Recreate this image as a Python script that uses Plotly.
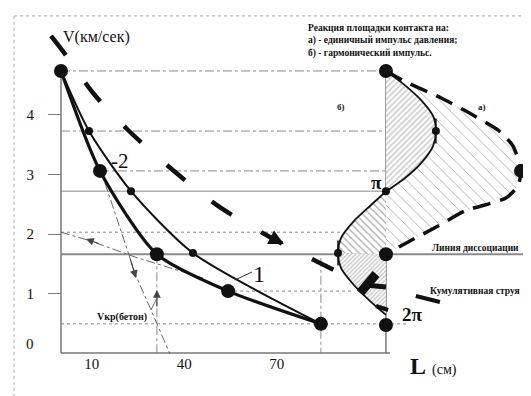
import plotly.graph_objects as go

# ---------------- data (L in cm, V in km/s) ----------------
curve1_L = [0, 9.08, 22.7, 42.8, 84.3]
curve1_V = [4.74, 3.73, 2.72, 1.68, 0.49]
curve2_L = [0, 12.65, 31.1, 54.2, 84.3]
curve2_V = [4.74, 3.06, 1.66, 1.04, 0.49]

big_L = [0, 12.65, 31.1, 54.2, 84.3, 105.4, 105.4, 105.4, 149.2]
big_V = [4.74, 3.06, 1.66, 1.04, 0.49, 4.74, 1.66, 0.47, 3.06]
small_L = [9.08, 22.7, 42.8, 105.4]
small_V = [3.73, 2.72, 1.68, 2.72]
peak_L = [121.6, 89.85]
peak_V = [3.73, 1.68]

jet_L = [-3.24, 2.27, 10.38, 21.73, 34.71, 50.92, 67.14, 80.12, 96.33]
jet_V = [5.328, 4.958, 4.37, 3.748, 3.143, 2.471, 1.966, 1.613, 1.193]

harm_L = [105.4, 110.6, 116.8, 120.7, 121.6, 120.7, 116.8, 111.6, 105.4,
          100.2, 94.7, 90.8, 89.85, 90.8, 94.7, 99.9, 105.4]
harm_V = [4.74, 4.54, 4.25, 3.98, 3.73, 3.48, 3.19, 2.94, 2.71,
          2.47, 2.20, 1.93, 1.68, 1.43, 1.16, 0.89, 0.64]

pulse_L = [105.4, 111.9, 123.3, 133.6, 141.7, 146.6, 149.2, 148.2, 144.3,
           131.0, 122.3, 112.6, 105.4]
pulse_V = [4.74, 4.555, 4.286, 4.0, 3.748, 3.479, 3.06, 2.807, 2.605,
           2.387, 2.134, 1.866, 1.66]

# horizontal guide levels: (L from, L to, V, dash)
h_guides = [(0, 105.4, 4.74, "dashdot"), (0, 121.6, 3.73, "dashdot"),
            (12.65, 149.2, 3.06, "dashdot"), (0, 105.4, 2.72, "solid"),
            (0, 91.4, 2.03, "dot"), (54.2, 94.7, 1.04, "dot"),
            (0, 112.6, 0.49, "dot")]
diss_L = [0, 153.0]
diss_V = [1.66, 1.66]
v_guides = [(31.1, 1.66, 0), (84.3, 1.60, 0)]

lineA_L = [0, 9.73, 24.0, 46.06]
lineA_V = [2.03, 1.882, 1.613, 1.26]
lineB_L = [14.27, 24.33, 29.19, 35.35]
lineB_V = [2.857, 1.294, 0.723, -0.017]
lineV_L = [29.19, 31.1]
lineV_V = [0.723, 0.92]

y_ticks = [1, 2, 3, 4]
x_ticks = [10, 40, 70]

FONT = "'Liberation Serif', 'Times New Roman', 'DejaVu Serif', serif"
fig = go.Figure()

def line(x, y, color="#888", width=1, dash="solid", shape="linear", smooth=None):
    ln = dict(color=color, width=width, dash=dash, shape=shape)
    if smooth is not None:
        ln["smoothing"] = smooth
    fig.add_trace(go.Scatter(x=x, y=y, mode="lines", line=ln, hoverinfo="skip",
                             showlegend=False, cliponaxis=False))

# guides
for a, b, v, d in h_guides:
    line([a, b], [v, v], "#8a8a8a", 1, d)
line(diss_L, diss_V, "#8a8a8a", 2)
for l, v0, v1 in v_guides:
    line([l, l], [v0, v1], "#8a8a8a", 1, "dashdot")

# axes lines
line([0, 0], [4.74, 0], "#777", 1.5)
line([0, 106.7], [0, 0], "#777", 1.5)
line([105.4, 105.4], [4.74, 0], "#777", 1.5)

# pulse (a) hatched region
fig.add_trace(go.Scatter(x=pulse_L, y=pulse_V, mode="none", fill="toself",
                         fillpattern=dict(shape="\\", fgcolor="#444", bgcolor="white",
                                          size=8, solidity=0.1),
                         hoverinfo="skip", showlegend=False))
# harmonic (b) lobes
fig.add_trace(go.Scatter(x=harm_L[:9], y=harm_V[:9], mode="none", fill="toself",
                         fillpattern=dict(shape="/", fgcolor="#999", bgcolor="white",
                                          size=4, solidity=0.4),
                         hoverinfo="skip", showlegend=False))
fig.add_trace(go.Scatter(x=harm_L[8:13] + [105.4], y=harm_V[8:13] + [1.66], mode="none",
                         fill="toself",
                         fillpattern=dict(shape="\\", fgcolor="#555", bgcolor="white",
                                          size=5, solidity=0.25),
                         hoverinfo="skip", showlegend=False))
fig.add_trace(go.Scatter(x=[105.4] + harm_L[12:], y=[1.66] + harm_V[12:], mode="none",
                         fill="toself",
                         fillpattern=dict(shape="/", fgcolor="#999", bgcolor="white",
                                          size=3, solidity=0.5),
                         hoverinfo="skip", showlegend=False))

# outlines
line(pulse_L, pulse_V, "#111", 3.5, "18px,10px", "spline", 0.6)
line(harm_L, harm_V, "#111", 1.8, "solid", "spline", 0.8)

# thin dash-dot helper lines
line(lineA_L, lineA_V, "#666", 1, "dashdot")
line(lineB_L, lineB_V, "#666", 1, "dashdot")
line(lineV_L, lineV_V, "#666", 1)

# velocity curves
line(curve2_L, curve2_V, "#111", 3.2, "solid", "spline", 0.7)
line(curve1_L, curve1_V, "#111", 2, "solid", "spline", 0.7)

# big dashed curve
line(jet_L, jet_V, "#111", 4.5, "24px,34px", "spline", 0.8)

# jet blob and pointers
line([97.0, 102.2], [1.008, 1.328], "#111", 9)
line([98.6, 105.4], [1.143, 1.109], "#111", 5)
line([115.1, 122.9], [0.958, 0.857], "#111", 4)
line([102.2, 106.1], [0.79, 0.723], "#111", 4)
line([56.4, 61.95], [1.227, 1.361], "#333", 1)

# peak ticks
for l, v in zip(peak_L, peak_V):
    line([l, l], [v + 0.21, v - 0.21], "#111", 1.5)

# markers
fig.add_trace(go.Scatter(x=big_L, y=big_V, mode="markers",
                         marker=dict(size=14, color="#111"), hoverinfo="skip",
                         showlegend=False, cliponaxis=False))
fig.add_trace(go.Scatter(x=small_L + peak_L, y=small_V + peak_V, mode="markers",
                         marker=dict(size=8, color="#111"), hoverinfo="skip",
                         showlegend=False, cliponaxis=False))

# arrows
def arrow(hx, hy, tx, ty, w=1.2, head=2, size=1.3, color="#444"):
    fig.add_annotation(x=hx, y=hy, ax=tx, ay=ty, xref="x", yref="y", axref="x", ayref="y",
                       showarrow=True, arrowhead=head, arrowsize=size, arrowwidth=w,
                       arrowcolor=color, text="")

arrow(72.3, 1.83, 67.8, 1.95, w=3, size=1.0, color="#111")
arrow(8.1, 1.916, 12.65, 1.832)
arrow(24.33, 1.26, 22.38, 1.597)
arrow(31.1, 1.059, 31.1, 0.756)

# texts
def txt(s, x, y, size, bold=False, xanchor="center", align="center"):
    if bold:
        s = "<b>" + s + "</b>"
    fig.add_annotation(x=x, y=y, xref="x", yref="y", text=s, showarrow=False,
                       xanchor=xanchor, yanchor="middle", align=align,
                       font=dict(family=FONT, size=size, color="#111"))

txt("V(км/сек)", 11.5, 5.31, 16)
txt("Реакция площадки контакта на:<br>а) - единичный импульс давления;<br>"
    "б) - гармонический импульс.", 79.5, 5.244, 9.5, True, "left", "left")
txt("б)", 90.8, 4.13, 9, True)
txt("а)", 136.6, 4.13, 9, True)
txt("π", 102.2, 2.86, 19, True)
txt("2π", 113.85, 0.64, 19, True)
txt("Линия диссоциации", 134.6, 1.77, 9.5, True)
txt("Кумулятивная струя", 134.3, 1.04, 9.5, True)
txt("Vкр(бетон)", 19.8, 0.605, 10, True)
txt("-2", 19.0, 3.22, 21)
txt("1", 64.2, 1.32, 24)
txt("0", -10.05, 0.15, 15)
fig.add_annotation(x=112.55, y=-0.218, xref="x", yref="y", showarrow=False,
                   xanchor="left", yanchor="middle",
                   text="<b>L</b> <span style='font-size:14px'>(см)</span>",
                   font=dict(family=FONT, size=24, color="#111"))

# frame
fig.add_shape(type="line", xref="paper", yref="paper", x0=0.0113, x1=0.0113, y0=0.98, y1=0,
              line=dict(color="#aaa", width=1, dash="dot"))
fig.add_shape(type="line", xref="paper", yref="paper", x0=0.0113, x1=1, y0=0.98, y1=0.98,
              line=dict(color="#aaa", width=1, dash="dot"))

fig.update_layout(
    width=531, height=396, margin=dict(l=0, r=0, t=0, b=0),
    paper_bgcolor="white", plot_bgcolor="white", showlegend=False,
    font=dict(family=FONT, size=14, color="#111"),
    xaxis=dict(range=[-17.19, 155.04], tickvals=x_ticks, ticks="", showline=False,
               showgrid=False, zeroline=False, anchor="free", position=0.1288,
               tickfont=dict(family=FONT, size=15, color="#111")),
    yaxis=dict(range=[-0.857, 5.798], tickvals=y_ticks, ticks="outside", ticklen=13,
               tickcolor="#777", showline=False, showgrid=False, zeroline=False,
               anchor="free", position=53 / 531, ticklabelstandoff=11,
               tickfont=dict(family=FONT, size=15, color="#111")),
)
fig.write_html("out.html")
